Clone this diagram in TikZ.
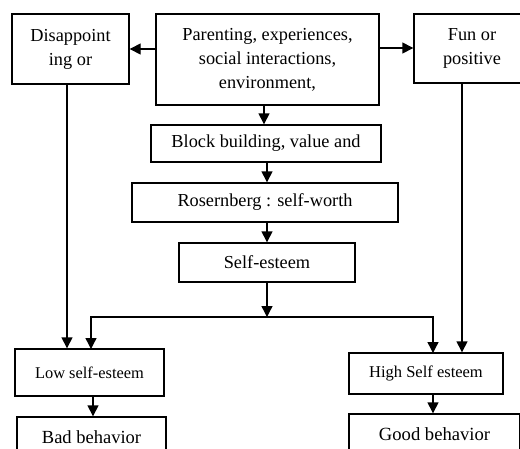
\documentclass[tikz,border=0pt]{standalone}
\usepackage{fontspec}
\setmainfont{Liberation Serif}
\usetikzlibrary{arrows.meta}
\begin{document}
\begin{tikzpicture}[x=1pt,y=-1pt,
  box/.style={draw,line width=1.4pt,align=center,inner sep=0pt,font=\fontsize{18.3}{24}\selectfont},
  arr/.style={line width=1.4pt,-{Triangle[length=11pt,width=11pt]}}]
\useasboundingbox (0,0) rectangle (520,448);
\clip (0,0) rectangle (520,448);
\node[box,minimum width=117pt,minimum height=70pt] (dis) at (70.5,49) {Disappoint\\ing or};
\node[box,minimum width=223pt,minimum height=91pt] (par) at (267.5,59.5) {Parenting, experiences,\\social interactions,\\environment,};
\node[box,minimum width=116pt,minimum height=69pt] (fun) at (472,48.5) {Fun or\\positive};
\node[box,minimum width=230pt,minimum height=37pt] (blk) at (266,143.5) {Block building, value and};
\node[box,minimum width=266pt,minimum height=39pt] (ros) at (265,202.5) {Rosernberg : self-worth};
\node[box,minimum width=176pt,minimum height=39pt] (se) at (267,262.5) {Self-esteem};
\node[box,minimum width=149pt,minimum height=47pt,font=\fontsize{16.4}{20}\selectfont] (low) at (89.5,372.5) {Low self-esteem};
\node[box,minimum width=149pt,minimum height=41pt,font=\fontsize{18.5}{22}\selectfont] (bad) at (91.5,437.5) {Bad behavior};
\node[box,minimum width=154pt,minimum height=41pt,font=\fontsize{16.5}{20}\selectfont] (high) at (426,373.5) {High Self esteem};
\node[box,minimum width=171pt,minimum height=40pt,font=\fontsize{18.6}{22}\selectfont] (good) at (434.5,434) {Good behavior};
% connectors
\draw[arr] (par.west |- 0,49) -- (dis.east |- 0,49);
\draw[arr] (par.east |- 0,48) -- (fun.west |- 0,48);
\draw[arr] (par.south -| 264,0) -- (blk.north -| 264,0);
\draw[arr] (blk.south -| 267,0) -- (ros.north -| 267,0);
\draw[arr] (ros.south -| 267,0) -- (se.north -| 267,0);
\coordinate (split) at (267,317);
\draw[arr] (se.south -| 267,0) -- (split);
\coordinate (lowin) at (91,349);
\coordinate (highin) at (433,353);
\draw[arr] (split) -| (lowin);
\draw[arr] (split) -| (highin);
\draw[arr] (dis.south -| 67,0) -- (low.north -| 67,0);
\draw[arr] (fun.south -| 462,0) -- (high.north -| 462,0);
\draw[arr] (low.south -| 93,0) -- (bad.north -| 93,0);
\draw[arr] (high.south -| 433,0) -- (good.north -| 433,0);
\end{tikzpicture}
\end{document}
